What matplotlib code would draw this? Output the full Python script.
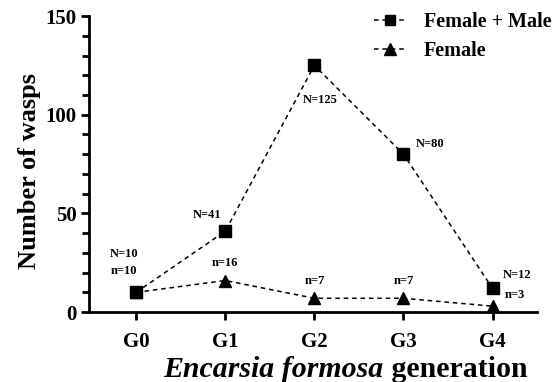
import matplotlib
matplotlib.use("Agg")
import matplotlib.pyplot as plt
from matplotlib.ticker import MultipleLocator
from matplotlib.offsetbox import TextArea, HPacker, AnchoredOffsetbox

generations = ["G0", "G1", "G2", "G3", "G4"]
female_male = [10, 41, 125, 80, 12]
female = [10, 16, 7, 7, 3]
fm_labels = ["N=10", "N=41", "N=125", "N=80", "N=12"]
f_labels = ["n=10", "n=16", "n=7", "n=7", "n=3"]

plt.rcParams['font.family'] = ['Liberation Serif', 'DejaVu Serif']
plt.rcParams['font.weight'] = 'bold'

fig = plt.figure(figsize=(5.56, 3.82), dpi=100)
ax = fig.add_axes([0.160, 0.183, 0.806, 0.775])
x = list(range(len(generations)))
dash = (0, (3, 2.5))
ax.plot(x, female_male, ls=dash, color='black', lw=1.1, marker='s', ms=8.5,
        label='Female + Male', clip_on=False, zorder=3)
ax.plot(x, female, ls=dash, color='black', lw=1.1, marker='^', ms=9,
        label='Female', clip_on=False, zorder=3)

ax.set_xlim(-0.53, 4.5)
ax.set_ylim(0, 150)
ax.set_xticks(x)
ax.set_xticklabels(generations)
ax.yaxis.set_major_locator(MultipleLocator(50))
ax.yaxis.set_minor_locator(MultipleLocator(10))
for s in ['top', 'right']:
    ax.spines[s].set_visible(False)
for s in ['left', 'bottom']:
    ax.spines[s].set_linewidth(2)
ax.tick_params(axis='both', which='major', length=6, width=2, labelsize=15, pad=3)
ax.tick_params(axis='y', which='minor', length=5, width=2)
ax.tick_params(axis='x', pad=8)

ax.set_ylabel('Number of wasps', fontsize=19, fontweight='bold')
ax.yaxis.set_label_coords(-0.108, 0.476)

t1 = TextArea('Encarsia formosa', textprops=dict(fontsize=21.5, fontweight='bold', fontstyle='italic', family='Liberation Serif'))
t2 = TextArea(' generation', textprops=dict(fontsize=21.5, fontweight='bold', family='Liberation Serif'))
box = HPacker(children=[t1, t2], align='baseline', pad=0, sep=0)
ab = AnchoredOffsetbox(loc='center', child=box, pad=0, frameon=False,
                       bbox_to_anchor=(0.621, 0.032), bbox_transform=fig.transFigure, borderpad=0)
fig.add_artist(ab)

fs = 9
fm_off = [(-12, 38), (-18, 16), (6, -35), (27, 10), (25, 13)]
for xi, yi, lab, off in zip(x, female_male, fm_labels, fm_off):
    ax.annotate(lab, (xi, yi), xytext=off, textcoords='offset pixels',
                ha='center', va='center', fontsize=fs, fontweight='bold')
f_off = [(-12, 21), (0, 18), (0, 17), (0, 17), (22, 11)]
for xi, yi, lab, off in zip(x, female, f_labels, f_off):
    ax.annotate(lab, (xi, yi), xytext=off, textcoords='offset pixels',
                ha='center', va='center', fontsize=fs, fontweight='bold')

leg = fig.legend(loc='upper right', bbox_to_anchor=(1.025, 1.015), frameon=False,
                 prop=dict(size=14.5, weight='bold'), handlelength=1.6, labelspacing=0.42,
                 handletextpad=0.9, markerscale=0.9)

fig.savefig('out.png', dpi=100)
